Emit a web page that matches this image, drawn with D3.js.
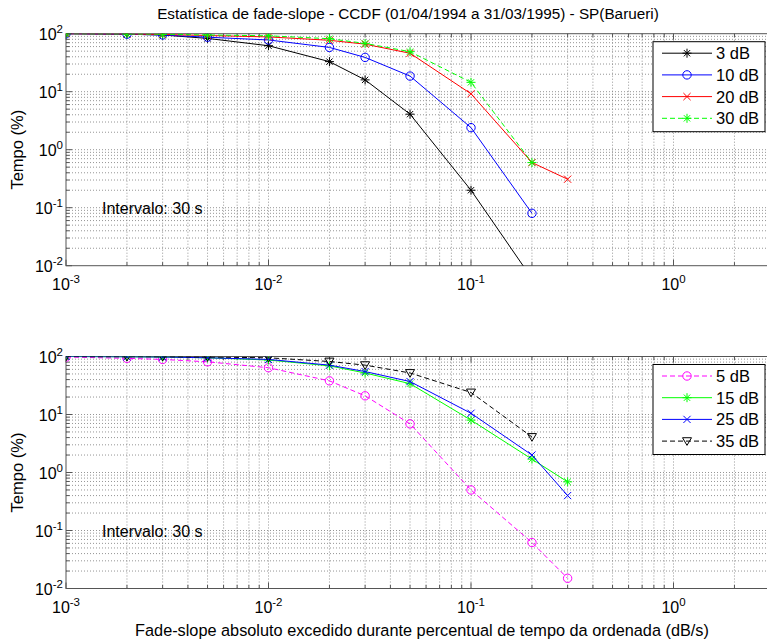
<!DOCTYPE html>
<html><head><meta charset="utf-8">
<script src="https://cdn.jsdelivr.net/npm/d3@7"></script>
<style>body{margin:0;background:#fff}svg{display:block;font-family:"Liberation Sans",Arial,sans-serif}</style>
</head><body><svg id="c" width="767" height="643"></svg>
<script>
const xVals = [0.001,0.002,0.003,0.005,0.01,0.02,0.03,0.05,0.1,0.2,0.3];
const xTickExps = [-3,-2,-1,0];
const yTickExps = [-2,-1,0,1,2];
const titleText = "Estatística de fade-slope - CCDF (01/04/1994 a 31/03/1995) - SP(Barueri)";
const xLabelText = "Fade-slope absoluto excedido durante percentual de tempo da ordenada (dB/s)";
const yLabelText = "Tempo (%)";
const noteText = "Intervalo: 30 s";

const topNames = ["3 dB","10 dB","20 dB","30 dB"];
const top3 = [100,98,95,83,62,33,16,4.1,0.20,0.006];
const top10 = [100,98,95,87,78,58,39,18.6,2.4,0.08];
const top20 = [100,99,97,93,88,77,66,46,9.2,0.6,0.31];
const top30 = [100,99,98,95,92,82,68,49,14.5,0.6];

const botNames = ["5 dB","15 dB","25 dB","35 dB"];
const bot5 = [98,93,89,81,64,38,21,6.9,0.5,0.062,0.015];
const bot15 = [100,99,98,95,87,69,52,34,8.0,1.7,0.69];
const bot25 = [100,99,98,95,89,71,55,37,10.5,2.0,0.40];
const bot35 = [100,99,99,98,95,82,71,52,24,4.1];

const svg = d3.select("#c");
const L = 66, R = 770;
const x = d3.scaleLog().domain([1e-3, 3]).range([L, L + 202.5*Math.log10(3000)]);

svg.append("text").attr("x",408).attr("y",19).attr("text-anchor","middle")
  .attr("font-size",15.3).text(titleText);
svg.append("text").attr("x",422).attr("y",636).attr("text-anchor","middle")
  .attr("font-size",16.3).text(xLabelText);

function marker(g, type, cx, cy, color, size){
  const s = size;
  if(type==="star"){
    const p = `M${cx-s},${cy}L${cx+s},${cy}M${cx},${cy-s}L${cx},${cy+s}M${cx-s*0.7},${cy-s*0.7}L${cx+s*0.7},${cy+s*0.7}M${cx-s*0.7},${cy+s*0.7}L${cx+s*0.7},${cy-s*0.7}`;
    g.append("path").attr("d",p).attr("stroke",color).attr("fill","none").attr("stroke-width",1);
  } else if(type==="circle"){
    g.append("circle").attr("cx",cx).attr("cy",cy).attr("r",s).attr("stroke",color).attr("fill","none").attr("stroke-width",1);
  } else if(type==="x"){
    const t=s*0.8;
    g.append("path").attr("d",`M${cx-t},${cy-t}L${cx+t},${cy+t}M${cx-t},${cy+t}L${cx+t},${cy-t}`).attr("stroke",color).attr("fill","none").attr("stroke-width",1);
  } else if(type==="tri"){
    g.append("path").attr("d",`M${cx-s},${cy-s*0.75}L${cx+s},${cy-s*0.75}L${cx},${cy+s*0.95}Z`).attr("stroke",color).attr("fill","none").attr("stroke-width",1);
  }
}

function panel(top, series, id){
  const bottom = top + 232;
  const y = d3.scaleLog().domain([1e-2, 1e2]).range([bottom, top]);
  const g = svg.append("g");
  const clipId = "clip"+id;
  svg.append("clipPath").attr("id",clipId).append("rect").attr("x",L).attr("y",top).attr("width",R-L).attr("height",bottom-top);
  const grid = g.append("g").attr("stroke","#7a7a7a").attr("stroke-width",0.8).attr("stroke-dasharray","1,2");
  for(let e=-3;e<=0;e++){ for(let m=1;m<=9;m++){ const v=m*Math.pow(10,e); if(v>3) continue; const px=x(v);
    if(px<=L+0.5) continue;
    grid.append("line").attr("x1",px).attr("x2",px).attr("y1",top).attr("y2",bottom); } }
  for(let e=-2;e<=1;e++){ for(let m=1;m<=9;m++){ const v=m*Math.pow(10,e); const py=y(v);
    if(py>=bottom-0.5) continue;
    grid.append("line").attr("x1",L).attr("x2",R).attr("y1",py).attr("y2",py); } }
  const tk = g.append("g").attr("stroke","#555").attr("stroke-width",1);
  for(let e=-3;e<=0;e++){ for(let m=1;m<=9;m++){ const v=m*Math.pow(10,e); if(v>3) continue; const px=x(v); const len = m===1?6:3.5;
    tk.append("line").attr("x1",px).attr("x2",px).attr("y1",bottom).attr("y2",bottom-len);
    tk.append("line").attr("x1",px).attr("x2",px).attr("y1",top).attr("y2",top+len); } }
  for(let e=-2;e<=2;e++){ for(let m=1;m<=9;m++){ const v=m*Math.pow(10,e); if(v>100) continue; const py=y(v); const len = m===1?6:3.5;
    tk.append("line").attr("x1",L).attr("x2",L+len).attr("y1",py).attr("y2",py); } }
  g.append("rect").attr("x",L).attr("y",top).attr("width",R-L).attr("height",bottom-top).attr("fill","none").attr("stroke","#555").attr("stroke-width",1);
  xTickExps.forEach(e=>{
    const t = g.append("text").attr("x",x(Math.pow(10,e))).attr("y",bottom+24).attr("text-anchor","middle").attr("font-size",16);
    t.append("tspan").text("10");
    t.append("tspan").attr("dy",-7).attr("font-size",11.5).text(e);
  });
  yTickExps.forEach(e=>{
    const t = g.append("text").attr("x",63).attr("y",y(Math.pow(10,e))+6).attr("text-anchor","end").attr("font-size",16);
    t.append("tspan").text("10");
    t.append("tspan").attr("dy",-7).attr("font-size",11.5).text(e);
  });
  g.append("text").attr("transform",`translate(23,${(top+bottom)/2}) rotate(-90)`).attr("text-anchor","middle").attr("font-size",16.5).text(yLabelText);
  g.append("text").attr("x",102).attr("y",top+180).attr("font-size",16).text(noteText);
  const dg = g.append("g").attr("clip-path",`url(#${clipId})`);
  const line = d3.line().x(d=>x(d[0])).y(d=>y(d[1]));
  series.forEach(s=>{
    const pts = s.vals.map((v,i)=>[xVals[i],v]);
    dg.append("path").attr("d",line(pts)).attr("fill","none").attr("stroke",s.color).attr("stroke-width",1)
      .attr("stroke-dasharray",s.dash||null);
    pts.forEach(p=>marker(dg,s.marker,x(p[0]),y(p[1]),s.color,s.size));
  });
  const lx=653, ly=top+8, lw=112, lh=90;
  const lg = g.append("g");
  lg.append("rect").attr("x",lx).attr("y",ly).attr("width",lw).attr("height",lh).attr("fill","#fff").attr("stroke","#000").attr("stroke-width",1);
  series.forEach((s,i)=>{
    const yy = ly+11.5+i*21.7;
    lg.append("line").attr("x1",lx+9).attr("x2",lx+59).attr("y1",yy).attr("y2",yy).attr("stroke",s.color).attr("stroke-width",1).attr("stroke-dasharray",s.dash||null);
    marker(lg,s.marker,lx+34,yy,s.color,s.size);
    lg.append("text").attr("x",lx+63).attr("y",yy+6).attr("font-size",16.5).text(s.name);
  });
}

panel(33.7, [
  {name:topNames[0], vals:top3, color:"#000", marker:"star", size:4.5},
  {name:topNames[1], vals:top10, color:"#0000ff", marker:"circle", size:4.2},
  {name:topNames[2], vals:top20, color:"#ff0000", marker:"x", size:4.5},
  {name:topNames[3], vals:top30, color:"#00ff00", marker:"star", size:4.5, dash:"5,3"}
], "t");
panel(356.5, [
  {name:botNames[0], vals:bot5, color:"#ff00ff", marker:"circle", size:4.2, dash:"5,3"},
  {name:botNames[1], vals:bot15, color:"#00ff00", marker:"star", size:4.5},
  {name:botNames[2], vals:bot25, color:"#0000ff", marker:"x", size:4.5},
  {name:botNames[3], vals:bot35, color:"#000", marker:"tri", size:4.5, dash:"5,3"}
], "b");
</script></body></html>
